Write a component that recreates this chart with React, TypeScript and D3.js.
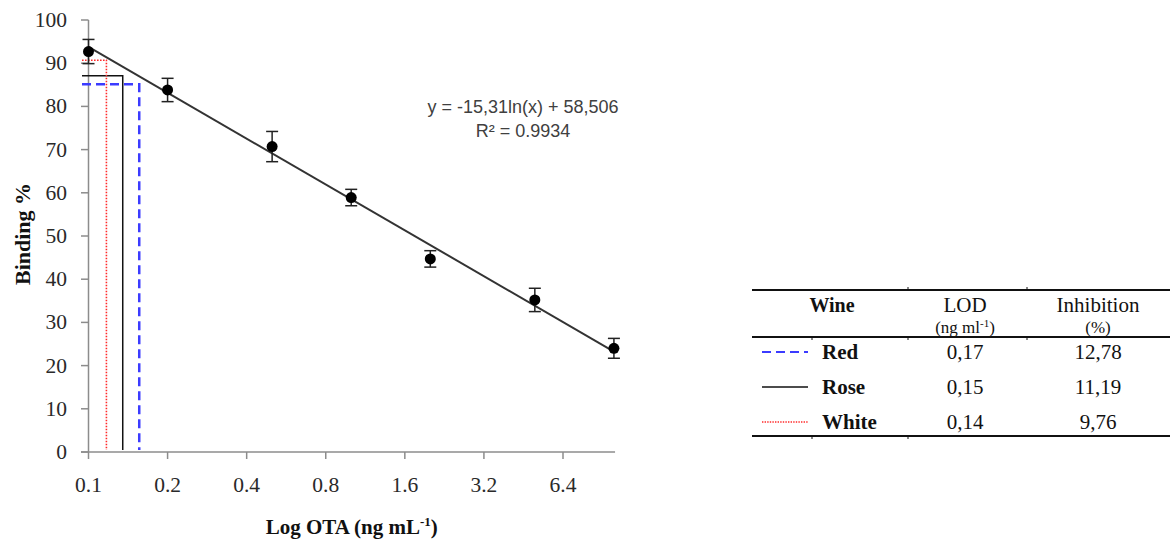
import React from "react";
import * as d3 from "d3";

// ---- data ----
const concentrations = [0.1, 0.2, 0.5, 1, 2, 5, 10];
const bindingMeans = [92.7, 83.8, 70.7, 58.9, 44.7, 35.2, 24.0];
const bindingErrors = [2.8, 2.7, 3.5, 1.9, 1.9, 2.7, 2.3];
const xTickValues = [0.1, 0.2, 0.4, 0.8, 1.6, 3.2, 6.4];
const yTickValues = [0, 10, 20, 30, 40, 50, 60, 70, 80, 90, 100];
const fitSlope = -15.31;
const fitIntercept = 58.506;
const fitRange = [0.1, 10];
const wineNames = ["Red", "Rose", "White"];
const wineLod = ["0,17", "0,15", "0,14"];
const wineInhibition = ["12,78", "11,19", "9,76"];
// LOD guide lines (x in ng/mL, y in binding %)
const guideX = [0.156, 0.135, 0.117];
const guideY = [85.1, 87.1, 90.7];
const equationText = "y = -15,31ln(x) + 58,506";
const r2Text = "R² = 0.9934";

const serif = "'Times New Roman', 'Liberation Serif', serif";
const sans = "'Liberation Sans', Arial, sans-serif";
const guideStyles = [
  { stroke: "#3b3bff", width: 2.5, dash: "9 5" },
  { stroke: "#111111", width: 1.5, dash: "" },
  { stroke: "#ff2a2a", width: 1.6, dash: "1.6 1.4" },
];

export default function App() {
  const x = d3.scaleLog().base(2).domain([0.1, 6.4]).range([88.5, 563]);
  const y = d3.scaleLinear().domain([0, 100]).range([452, 20]);
  const axisColor = "#8c8c8c";
  const xAxisEnd = x(10.1);
  const fitLine = d3
    .line<number>()
    .x((d) => x(d))
    .y((d) => y(fitSlope * Math.log(d) + fitIntercept));

  const tableTop = 290;
  const tableMid = 337;
  const tableBottom = 436;
  const rowY = [352, 387, 422];
  const colWine = 832;
  const colLod = 965;
  const colInh = 1098;

  return (
    <svg
      width={1170}
      height={541}
      style={{ position: "absolute", left: 0, top: 0, background: "#fff" }}
    >
      {/* Y axis */}
      <line x1={x(0.1)} x2={x(0.1)} y1={y(100)} y2={y(0)} stroke={axisColor} strokeWidth={1.5} />
      {yTickValues.map((t) => (
        <g key={"yt" + t}>
          <line x1={81} x2={x(0.1)} y1={y(t)} y2={y(t)} stroke={axisColor} strokeWidth={1.5} />
          <text
            x={67}
            y={y(t) + 7}
            textAnchor="end"
            fontFamily={serif}
            fontSize={21.5}
            fill="#2a2a2a"
          >
            {t}
          </text>
        </g>
      ))}
      {/* X axis */}
      <line x1={81} x2={xAxisEnd} y1={y(0)} y2={y(0)} stroke={axisColor} strokeWidth={1.5} />
      {xTickValues.map((t) => (
        <g key={"xt" + t}>
          <line x1={x(t)} x2={x(t)} y1={y(0)} y2={y(0) + 7} stroke={axisColor} strokeWidth={1.5} />
          <text
            x={x(t)}
            y={492}
            textAnchor="middle"
            fontFamily={serif}
            fontSize={21.5}
            fill="#2a2a2a"
          >
            {t}
          </text>
        </g>
      ))}
      {/* axis titles */}
      <text
        x={(x(0.1) + xAxisEnd) / 2}
        y={534}
        textAnchor="middle"
        fontFamily={serif}
        fontSize={21}
        fontWeight="bold"
        fill="#111"
      >
        Log OTA (ng mL
        <tspan fontSize={13} dy={-8}>-1</tspan>
        <tspan dy={8}>)</tspan>
      </text>
      <text
        transform={`translate(30, ${y(50) - 2}) rotate(-90)`}
        textAnchor="middle"
        fontFamily={serif}
        fontSize={22}
        fontWeight="bold"
        fill="#111"
      >
        Binding %
      </text>

      {/* LOD guide lines */}
      {guideX.map((gx, i) => {
        const s = guideStyles[i];
        return (
          <path
            key={"g" + i}
            d={`M82,${y(guideY[i])} H${x(gx)} V${y(0) - 2}`}
            fill="none"
            stroke={s.stroke}
            strokeWidth={s.width}
            strokeDasharray={s.dash || undefined}
          />
        );
      })}

      {/* fitted line */}
      <path d={fitLine(fitRange) || ""} fill="none" stroke="#333" strokeWidth={2} />

      {/* error bars and points */}
      {concentrations.map((c, i) => {
        const cx = x(c);
        const top = y(bindingMeans[i] + bindingErrors[i]);
        const bot = y(bindingMeans[i] - bindingErrors[i]);
        return (
          <g key={"p" + i}>
            <line x1={cx} x2={cx} y1={top} y2={bot} stroke="#222" strokeWidth={1.5} />
            <line x1={cx - 6} x2={cx + 6} y1={top} y2={top} stroke="#222" strokeWidth={1.5} />
            <line x1={cx - 6} x2={cx + 6} y1={bot} y2={bot} stroke="#222" strokeWidth={1.5} />
            <circle cx={cx} cy={y(bindingMeans[i])} r={5.5} fill="#000" />
          </g>
        );
      })}

      {/* equation */}
      <text x={523} y={113} textAnchor="middle" fontFamily={sans} fontSize={18} fill="#404040">
        {equationText}
      </text>
      <text x={523} y={137} textAnchor="middle" fontFamily={sans} fontSize={18} fill="#404040">
        {r2Text}
      </text>

      {/* table */}
      <line x1={752} x2={1170} y1={tableTop} y2={tableTop} stroke="#111" strokeWidth={1.8} />
      <line x1={752} x2={1170} y1={tableMid} y2={tableMid} stroke="#111" strokeWidth={1.8} />
      <line x1={752} x2={1170} y1={tableBottom} y2={tableBottom} stroke="#111" strokeWidth={1.8} />
      {[908, 1027].map((tx) => (
        <line key={"tt" + tx} x1={tx} x2={tx} y1={tableTop - 3} y2={tableTop} stroke="#111" strokeWidth={1} />
      ))}
      {[812, 908, 1027].map((tx) => (
        <line key={"tm" + tx} x1={tx} x2={tx} y1={tableMid} y2={tableMid + 3} stroke="#111" strokeWidth={1} />
      ))}
      {[812, 908].map((tx) => (
        <line key={"tb" + tx} x1={tx} x2={tx} y1={tableBottom} y2={tableBottom + 3} stroke="#111" strokeWidth={1} />
      ))}
      <text x={colWine} y={312} textAnchor="middle" fontFamily={serif} fontSize={20} fontWeight="bold" fill="#111">
        Wine
      </text>
      <text x={colLod} y={312} textAnchor="middle" fontFamily={serif} fontSize={21} fill="#111">
        LOD
      </text>
      <text x={colLod} y={333} textAnchor="middle" fontFamily={serif} fontSize={17} fill="#111">
        (ng ml
        <tspan fontSize={11} dy={-6}>-1</tspan>
        <tspan dy={6}>)</tspan>
      </text>
      <text x={colInh} y={312} textAnchor="middle" fontFamily={serif} fontSize={21} fill="#111">
        Inhibition
      </text>
      <text x={colInh} y={333} textAnchor="middle" fontFamily={serif} fontSize={17} fill="#111">
        (%)
      </text>
      {wineNames.map((w, i) => {
        const s = guideStyles[i];
        return (
          <g key={"row" + i}>
            <line
              x1={762}
              x2={808}
              y1={rowY[i]}
              y2={rowY[i]}
              stroke={s.stroke}
              strokeWidth={i === 0 ? 2 : 1.5}
              strokeDasharray={i === 0 ? "9 5" : i === 2 ? "1.4 1.2" : undefined}
            />
            <text x={822} y={rowY[i] + 7} fontFamily={serif} fontSize={21} fontWeight="bold" fill="#111">
              {w}
            </text>
            <text x={colLod} y={rowY[i] + 7} textAnchor="middle" fontFamily={serif} fontSize={21} fill="#111">
              {wineLod[i]}
            </text>
            <text x={colInh} y={rowY[i] + 7} textAnchor="middle" fontFamily={serif} fontSize={21} fill="#111">
              {wineInhibition[i]}
            </text>
          </g>
        );
      })}
    </svg>
  );
}
